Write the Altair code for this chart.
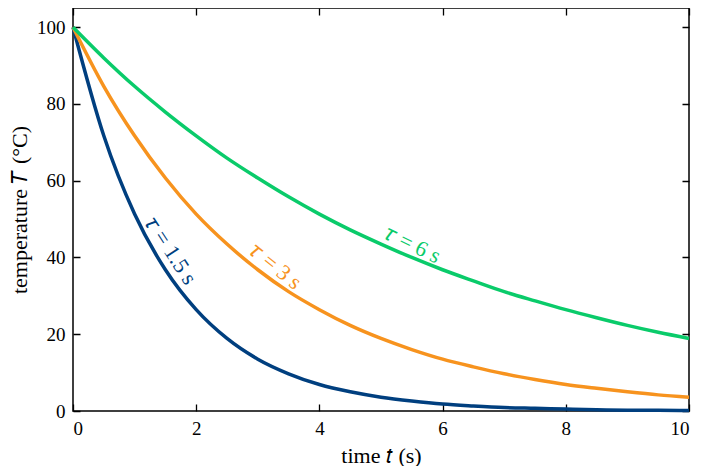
import altair as alt
import pandas as pd

# time axis (s) and temperatures (°C)
t = [0, 0.5, 1, 1.5, 2, 2.5, 3, 3.5, 4, 4.5, 5, 5.5, 6, 6.5, 7, 7.5, 8, 8.5, 9, 9.5, 10]
temp_tau_15 = [100, 71.7, 51.3, 36.8, 26.4, 18.9, 13.5, 9.7, 6.9, 5.0, 3.6,
               2.6, 1.8, 1.3, 0.9, 0.7, 0.5, 0.3, 0.2, 0.2, 0.1]
temp_tau_3 = [100, 84.6, 71.7, 60.7, 51.3, 43.5, 36.8, 31.1, 26.4, 22.3, 18.9,
              16.0, 13.5, 11.5, 9.7, 8.2, 6.9, 5.9, 5.0, 4.2, 3.6]
temp_tau_6 = [100, 92.0, 84.6, 77.9, 71.7, 65.9, 60.7, 55.8, 51.3, 47.2, 43.5,
              40.0, 36.8, 33.9, 31.1, 28.7, 26.4, 24.3, 22.3, 20.5, 18.9]

names = ["𝜏 = 1.5 s", "𝜏 = 3 s", "𝜏 = 6 s"]
colors = ["#003f7f", "#f7931e", "#0acb6a"]

# where the curve labels sit (data coords)
label_t = [1.59, 3.29, 5.51]
label_T = [41.8, 37.7, 43.4]

W, H = 616, 403
FONT = "Liberation Serif"

df = pd.concat(
    pd.DataFrame({"t": t, "T": v, "curve": n})
    for n, v in zip(names, [temp_tau_15, temp_tau_3, temp_tau_6])
)

xs = alt.Scale(domain=[0, 10], nice=False, zero=False)
ys = alt.Scale(domain=[0, 105], nice=False)

lines = alt.Chart(df).mark_line(strokeWidth=3.5, interpolate="monotone").encode(
    x=alt.X("t:Q", scale=xs, axis=alt.Axis(
        values=[0, 2, 4, 6, 8, 10], format="d", title="time 𝑡 (s)", domain=False,
        ticks=False, labelPadding=8, titlePadding=7,
        grid=True, gridColor="black", gridWidth=1.3, gridOpacity=1,
        gridDash=[7, H - 14, 7])),
    y=alt.Y("T:Q", scale=ys, axis=alt.Axis(
        values=[0, 20, 40, 60, 80, 100], format="d", title="temperature 𝑇 (°C)",
        domain=False, ticks=False, labelPadding=8, titlePadding=5,
        grid=True, gridColor="black", gridWidth=1.3, gridOpacity=1,
        gridDash=[7, W - 14, 7])),
    color=alt.Color("curve:N", scale=alt.Scale(domain=names, range=colors), legend=None),
)

angles = [57, 39, 26]
labels = []
for i, n in enumerate(names):
    lab = pd.DataFrame({"t": [label_t[i]], "T": [label_T[i]], "text": [n]})
    labels.append(
        alt.Chart(lab).mark_text(
            angle=angles[i], fontSize=22, font=FONT, color=colors[i],
            align="center", baseline="middle",
        ).encode(x=alt.X("t:Q", scale=xs), y=alt.Y("T:Q", scale=ys), text="text:N")
    )

chart = alt.layer(lines, *labels).properties(
    width=W, height=H, padding={"left": 0, "top": 0, "right": 0, "bottom": 0}
).configure_view(
    stroke="black", strokeWidth=1.5
).configure_axis(
    labelFont=FONT, titleFont=FONT, labelFontSize=19, titleFontSize=22,
    titleFontWeight="normal", labelColor="black", titleColor="black",
)

chart.save("out.html", embed_options={"renderer": "svg", "actions": False})
